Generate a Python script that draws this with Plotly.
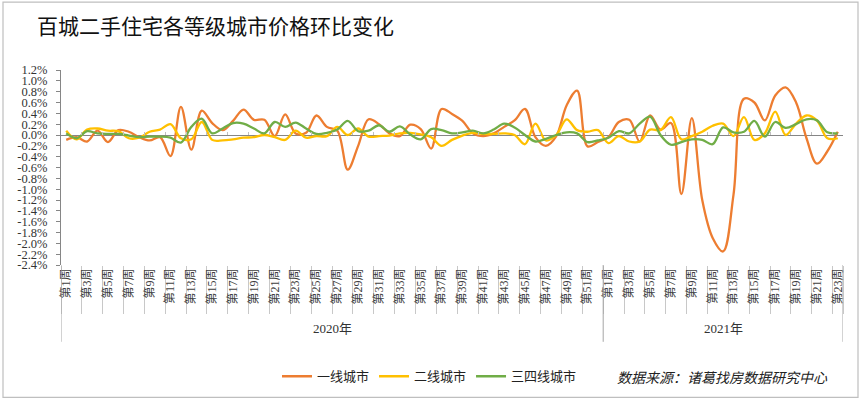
import plotly.graph_objects as go

# ---------------- data ----------------
TITLE = "百城二手住宅各等级城市价格环比变化"
YEARS = ["2020年", "2021年"]
WEEKS_2020 = ["第%d周" % i for i in range(1, 53)]
WEEKS_2021 = ["第%d周" % i for i in range(1, 24)]
SERIES_NAMES = ["一线城市", "二线城市", "三四线城市"]
SOURCE = "数据来源：诸葛找房数据研究中心"

# week-on-week price change, in %
TIER1 = [
    -0.09, -0.04, -0.12, 0.08, -0.13, 0.09, 0.06, -0.04, -0.10, -0.04,
    -0.39, 0.52, -0.27, 0.45, 0.22, 0.09, 0.26, 0.47, 0.28, 0.28,
    -0.02, 0.38, 0.03, 0.04, 0.36, 0.15, 0.08, -0.64, -0.20, 0.29,
    0.20, 0.03, -0.02, 0.19, 0.11, -0.25, 0.48, 0.39, 0.26, 0.03,
    -0.02, 0.03, 0.15, 0.27, 0.48, -0.04, -0.20, -0.02, 0.55, 0.82,
    -0.21, -0.13,
    -0.04, 0.24, 0.28, -0.12, 0.36, 0.10, 0.22, -1.09, 0.31, -1.20,
    -1.90, -2.15, -1.10, 0.67, 0.60, 0.27, 0.73, 0.88, 0.60, -0.06,
    -0.53, -0.30, 0.06,
]
TIER2 = [
    0.08, -0.08, 0.10, 0.12, 0.08, 0.07, -0.06, -0.05, 0.06, 0.10,
    0.20, -0.06, -0.08, 0.24, -0.09, -0.10, -0.08, -0.05, -0.04, 0.00,
    -0.04, -0.09, 0.08, -0.05, -0.02, -0.02, 0.15, 0.00, 0.12, -0.03,
    -0.02, -0.01, 0.03, 0.04, 0.01, -0.04, -0.20, -0.09, -0.01, 0.04,
    0.02, 0.02, 0.03, 0.00, -0.17, 0.21, -0.10, 0.00, 0.29, 0.09,
    0.06, 0.09,
    -0.15, -0.02, -0.12, -0.12, 0.10, 0.09, 0.33, -0.08, -0.02, 0.06,
    0.17, 0.21, -0.02, 0.33, -0.09, 0.03, 0.43, 0.00, 0.21, 0.36,
    0.27, -0.06, -0.06,
]
TIER34 = [
    0.03, -0.06, 0.07, 0.03, 0.02, 0.02, -0.01, -0.04, -0.03, -0.03,
    -0.05, -0.14, 0.15, 0.30, 0.03, 0.12, 0.22, 0.21, 0.12, 0.03,
    0.24, 0.15, 0.23, 0.12, 0.02, 0.04, 0.10, 0.26, 0.07, 0.08,
    0.18, 0.06, 0.16, 0.01, -0.08, 0.11, 0.09, 0.03, 0.05, 0.08,
    0.03, 0.10, 0.21, 0.14, 0.00, -0.12, -0.07, 0.00, 0.05, 0.03,
    -0.13, -0.10,
    -0.05, 0.07, 0.03, 0.21, 0.34, 0.00, -0.18, -0.13, -0.08, -0.09,
    -0.17, 0.14, 0.05, 0.06, 0.26, -0.03, 0.24, 0.13, 0.20, 0.29,
    0.27, 0.05, 0.03,
]
Y_MIN, Y_MAX, Y_STEP = -2.4, 1.2, 0.2

# ---------------- derived ----------------
WEEKS = WEEKS_2020 + WEEKS_2021
X = list(range(len(WEEKS)))
YEAR_SPANS = [(0, len(WEEKS_2020) - 1), (len(WEEKS_2020), len(WEEKS) - 1)]
label_vals = X[::2]
label_text = WEEKS[::2]
bounds = [v - 0.5 for v in label_vals] + [len(WEEKS) - 0.5]
n_ticks = int(round((Y_MAX - Y_MIN) / Y_STEP)) + 1
y_vals = [round(Y_MIN + k * Y_STEP, 1) for k in range(n_ticks)]
y_text = ["%.1f%%" % (0.0 if abs(v) < 1e-9 else v) for v in y_vals]

COLORS = ["#ED7D31", "#FFC000", "#70AD47"]

# layout geometry (pixels)
W, H = 865, 404
ML, MR, MT, MB = 61, 22, 70, 136
PW, PH = W - ML - MR, H - MT - MB


def px_x(px):
    return (px - ML) / PW


def px_y(py):
    return (H - MB - py) / PH


fig = go.Figure()
for name, vals, col in zip(SERIES_NAMES, [TIER1, TIER2, TIER34], COLORS):
    fig.add_trace(go.Scatter(
        x=X, y=vals, name=name, mode="lines",
        line=dict(color=col, width=2.3, shape="spline", smoothing=1.0),
    ))

# invisible trace to carry the tick marks on the zero line
fig.add_trace(go.Scatter(x=[None], y=[None], xaxis="x2", showlegend=False,
                         hoverinfo="skip"))

serif = "Liberation Serif, Noto Sans CJK SC, serif"
cjk = "Noto Sans CJK SC, sans-serif"

fig.update_layout(
    width=W, height=H,
    margin=dict(l=ML, r=MR, t=MT, b=MB),
    paper_bgcolor="white", plot_bgcolor="white",
    title=dict(text=TITLE, x=37 / W, xanchor="left", xref="container",
               y=1 - 27 / H, yanchor="middle", yref="container",
               font=dict(family=cjk, size=21, color="#111111")),
    xaxis=dict(
        range=[-0.5, len(WEEKS) - 0.5], showgrid=False, zeroline=False,
        showline=False, tickmode="array", tickvals=label_vals,
        ticktext=label_text, tickangle=-90, ticks="", automargin=False,
        tickfont=dict(family=serif, size=12, color="#404040"),
        minor=dict(tickmode="array", tickvals=bounds, ticks="outside",
                   ticklen=48, tickwidth=1, tickcolor="#C8C8C8",
                   showgrid=False),
    ),
    xaxis2=dict(
        overlaying="x", anchor="free",
        position=(0 - Y_MIN) / (Y_MAX - Y_MIN),
        range=[-0.5, len(WEEKS) - 0.5], showgrid=False, zeroline=False,
        showline=False, tickmode="array", tickvals=bounds,
        showticklabels=False, ticks="inside", ticklen=3,
        tickcolor="#BFBFBF",
    ),
    yaxis=dict(
        range=[Y_MIN, Y_MAX], showgrid=False, tickmode="array",
        tickvals=y_vals, ticktext=y_text, ticks="outside", ticklen=4,
        tickcolor="#868686", showline=True, linecolor="#868686",
        linewidth=1, zeroline=True, zerolinecolor="#868686",
        zerolinewidth=1.3, automargin=False, ticklabelstandoff=6,
        tickfont=dict(family=serif, size=12.5, color="#333333"),
    ),
    legend=dict(orientation="h", x=px_x(277), xanchor="left",
                y=px_y(381), yanchor="middle",
                font=dict(family=cjk, size=13, color="#222222"),
                bgcolor="rgba(0,0,0,0)", itemwidth=30),
    showlegend=True,
)

# year labels
for yr, (a, b) in zip(YEARS, YEAR_SPANS):
    fig.add_annotation(x=(a + b) / 2, xref="x", y=px_y(332), yref="paper",
                       text=yr, showarrow=False, yanchor="middle",
                       font=dict(family=serif, size=13, color="#333333"))

# year dividers in the label area
for bx in [-0.5, YEAR_SPANS[0][1] + 0.5, len(WEEKS) - 0.5]:
    fig.add_shape(type="line", xref="x", yref="paper", x0=bx, x1=bx,
                  y0=px_y(268), y1=px_y(346),
                  line=dict(color="#A6A6A6", width=1))

# source note
fig.add_annotation(x=px_x(830), xref="paper", y=px_y(382), yref="paper",
                   xanchor="right", yanchor="middle", showarrow=False,
                   text="<i>" + SOURCE + "</i>",
                   font=dict(family=cjk, size=14, color="#222222"))

# outer frame
fig.add_shape(type="rect", xref="paper", yref="paper",
              x0=px_x(3), x1=px_x(858), y0=px_y(402.5), y1=px_y(1),
              line=dict(color="#BFBFBF", width=1.2), layer="below")

fig.write_html("out.html",
               config={"displayModeBar": False},
               post_script="document.body.style.margin='0';"
                           "document.body.style.overflow='hidden';")
